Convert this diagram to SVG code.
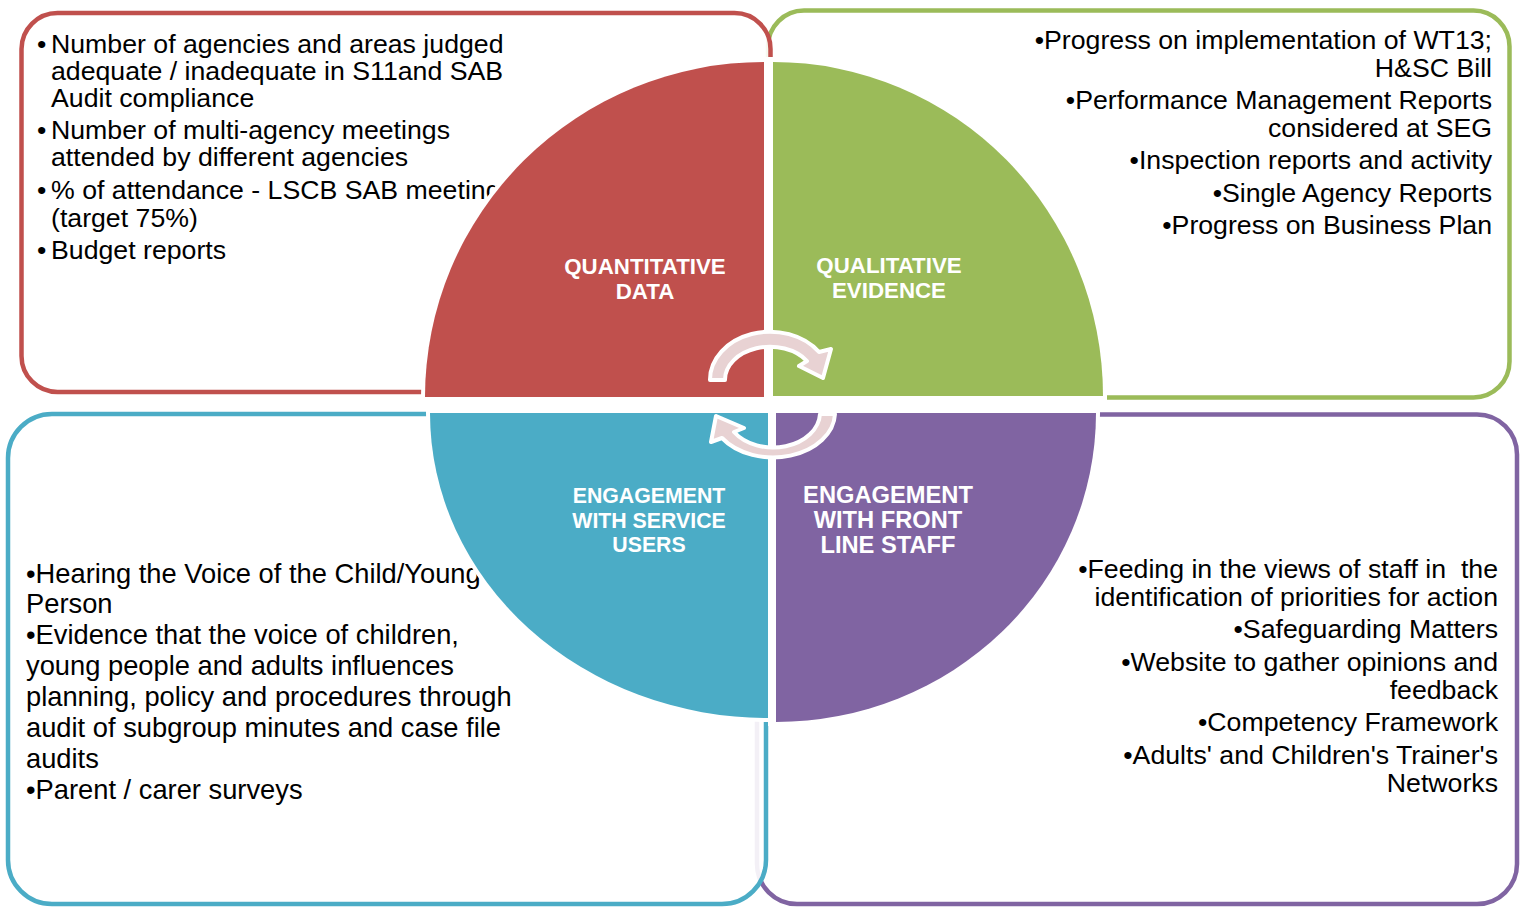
<svg xmlns="http://www.w3.org/2000/svg" width="1527" height="907" viewBox="0 0 1527 907">
<style>
.box{fill:#fff;fill-opacity:0.9;stroke-width:4.5}
.body{font-family:"Liberation Sans",Arial,sans-serif;font-size:26.7px;fill:#000}
.r{text-anchor:end}
.lbl{font-family:"Liberation Sans",Arial,sans-serif;font-weight:bold;fill:#fff;text-anchor:middle}
.q{stroke:#fff;stroke-width:8;paint-order:stroke}
.arrow{fill:#E8D2D3;stroke:#fff;stroke-width:4;stroke-linejoin:round}
</style>
<rect width="1527" height="907" fill="#fff"/>
<g id="box-qualitative">
<rect class="box" x="768" y="10.5" width="741.5" height="387" rx="36" stroke="#9BBB59"/>
<text class="body r"><tspan x="1492" y="49">•Progress on implementation of WT13;</tspan><tspan x="1492" y="77">H&amp;SC Bill</tspan><tspan x="1492" y="109">•Performance Management Reports</tspan><tspan x="1492" y="137">considered at SEG</tspan><tspan x="1492" y="169">•Inspection reports and activity</tspan><tspan x="1492" y="202">•Single Agency Reports</tspan><tspan x="1492" y="234">•Progress on Business Plan</tspan></text>
</g>
<g id="box-quantitative">
<rect class="box" x="21.5" y="13" width="749" height="379" rx="36" stroke="#C0504D"/>
<text class="body"><tspan x="37" y="53">•</tspan><tspan x="51" y="53">Number of agencies and areas judged</tspan><tspan x="51" y="80">adequate / inadequate in S11and SAB</tspan><tspan x="51" y="107">Audit compliance</tspan><tspan x="37" y="139">•</tspan><tspan x="51" y="139">Number of multi-agency meetings</tspan><tspan x="51" y="166">attended by different agencies</tspan><tspan x="37" y="199">•</tspan><tspan x="51" y="199">% of attendance - LSCB SAB meetings</tspan><tspan x="51" y="227">(target 75%)</tspan><tspan x="37" y="259">•</tspan><tspan x="51" y="259">Budget reports</tspan></text>
</g>
<g id="box-front-line-staff">
<rect class="box" x="757" y="414.5" width="760" height="489.5" rx="40" stroke="#8064A2"/>
<text class="body r"><tspan x="1498" y="578">•Feeding in the views of staff in&#160; the</tspan><tspan x="1498" y="606">identification of priorities for action</tspan><tspan x="1498" y="638">•Safeguarding Matters</tspan><tspan x="1498" y="671">•Website to gather opinions and</tspan><tspan x="1498" y="699">feedback</tspan><tspan x="1498" y="731">•Competency Framework</tspan><tspan x="1498" y="764">•Adults' and Children's Trainer's</tspan><tspan x="1498" y="792">Networks</tspan></text>
</g>
<g id="box-service-users">
<rect class="box" x="8" y="414" width="758" height="490" rx="44" stroke="#4BACC6"/>
<text class="body" style="font-size:27.3px"><tspan x="26" y="583">•Hearing the Voice of the Child/Young</tspan><tspan x="26" y="613">Person</tspan><tspan x="26" y="644">•Evidence that the voice of children,</tspan><tspan x="26" y="675">young people and adults influences</tspan><tspan x="26" y="706">planning, policy and procedures through</tspan><tspan x="26" y="737">audit of subgroup minutes and case file</tspan><tspan x="26" y="768">audits</tspan><tspan x="26" y="799">•Parent / carer surveys</tspan></text>
</g>
<g id="gaps" fill="#fff">
<rect x="764" y="57" width="9" height="343"/>
<rect x="768" y="408" width="8" height="318"/>
</g>
<g id="quadrant-quantitative">
<path class="q" fill="#C0504D" d="M764,397 L425,397 A339,335 0 0 1 764,62 Z"/>
<text class="lbl" font-size="22.3"><tspan x="645" y="274">QUANTITATIVE</tspan><tspan x="645" y="299">DATA</tspan></text>
</g>
<g id="quadrant-qualitative">
<path class="q" fill="#9BBB59" d="M773,62 A330,334 0 0 1 1103,396 L773,396 Z"/>
<text class="lbl" font-size="22.3"><tspan x="889" y="273">QUALITATIVE</tspan><tspan x="889" y="298">EVIDENCE</tspan></text>
</g>
<g id="quadrant-service-users">
<path class="q" fill="#4BACC6" d="M768,413 L768,718 A338,305 0 0 1 430,413 Z"/>
<text class="lbl" font-size="21.3"><tspan x="649" y="503">ENGAGEMENT</tspan><tspan x="649" y="528">WITH SERVICE</tspan><tspan x="649" y="552">USERS</tspan></text>
</g>
<g id="quadrant-front-line-staff">
<path class="q" fill="#8064A2" d="M776,413 L1096,413 A320,309 0 0 1 776,722 Z"/>
<text class="lbl" font-size="23.7"><tspan x="888" y="503">ENGAGEMENT</tspan><tspan x="888" y="528">WITH FRONT</tspan><tspan x="888" y="553">LINE STAFF</tspan></text>
</g>
<g id="connectors">
<path class="arrow" d="M710,380 A60,48 0 0 1 819,352 L831,349 L823,378 L799,366 L807,361 A45,33 0 0 0 725,380 Z"/>
<path class="arrow" d="M835,414 A62,45 0 0 1 722,438 L711,442 L716,416 L744,428 L734,432 A47,35 0 0 0 820,414 Z"/>
</g>
</svg>
